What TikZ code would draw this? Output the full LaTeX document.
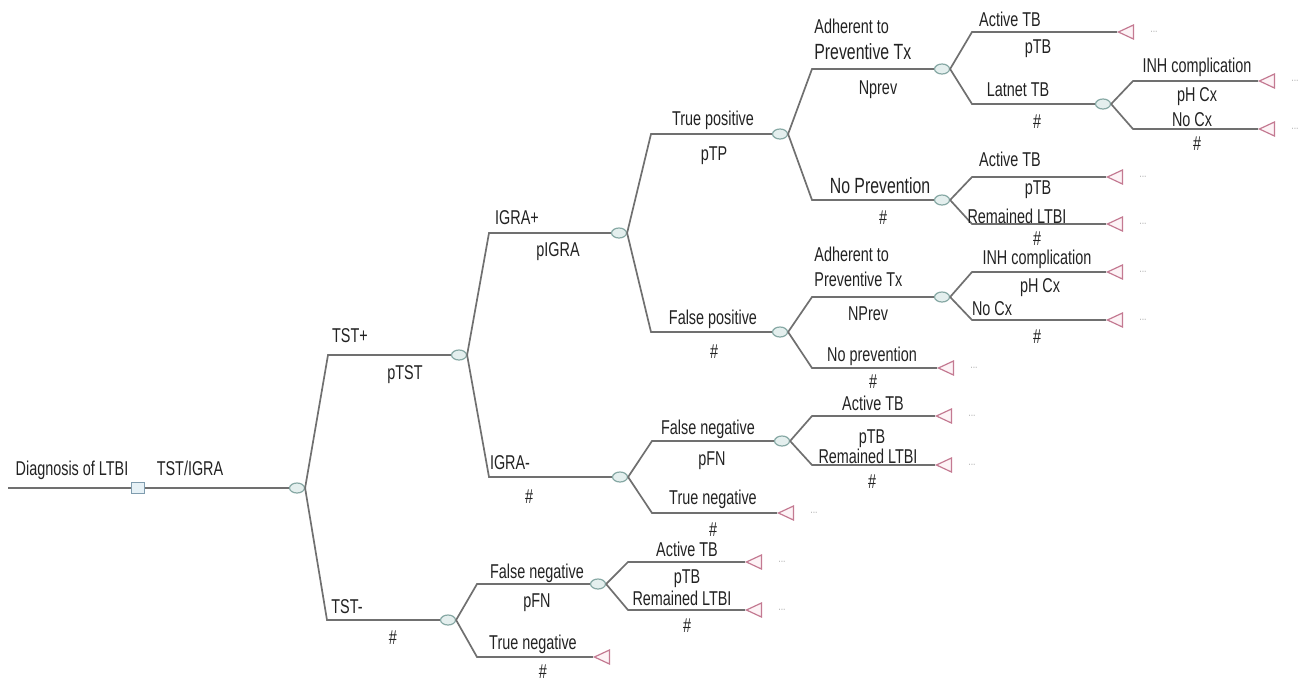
\documentclass[tikz,border=0pt]{standalone}
\usepackage{fontspec}
\setmainfont{Liberation Sans}[FakeStretch=0.72]
\usetikzlibrary{shapes.geometric,positioning}
\definecolor{dtLine}{HTML}{707070}
\definecolor{dtChance}{HTML}{86A8A4}
\definecolor{dtChanceFill}{HTML}{E4EFEE}
\definecolor{dtDecide}{HTML}{7F9CAE}
\definecolor{dtDecideFill}{HTML}{E6F1F6}
\definecolor{dtRose}{HTML}{C47A92}
\definecolor{dtRoseFill}{HTML}{FDF3F6}
\definecolor{dtInk}{HTML}{222222}
\tikzset{
  br/.style={draw=dtLine, line width=0.85pt},
  chn/.style={ellipse, draw=dtChance, fill=dtChanceFill, line width=0.6pt, minimum width=7.5pt, minimum height=5pt, inner sep=0pt},
  dec/.style={rectangle, draw=dtDecide, fill=dtDecideFill, line width=0.6pt, minimum width=6.5pt, minimum height=5.5pt, inner sep=0pt},
  term/.style={isosceles triangle, shape border rotate=180, isosceles triangle apex angle=50, draw=dtRose, fill=dtRoseFill, line width=0.6pt, minimum height=7.5pt, inner sep=0pt, anchor=apex},
  lbl/.style={font=\fontsize{10}{11}\selectfont, text=dtInk, inner sep=0pt, anchor=base},
  lblL/.style={lbl, font=\fontsize{11}{12}\selectfont},
  more/.style={font=\fontsize{6}{7}\selectfont, text=gray!60, inner sep=0pt},
}
\begin{document}
\begin{tikzpicture}[x=0.5pt, y=-0.5pt, node distance=8pt]
  \useasboundingbox (0,0) rectangle (1313,681);
  % root and decision
  \coordinate (s0) at (8,488);
  \node[dec] (d0) at (138,488) {};
  \node[chn] (c0) at (297,488) {};
  \draw[br] (s0) -- (d0.west) (d0.east) -- (c0.west);
  \node[lbl] (l-root) at (72,475) {Diagnosis of LTBI};
  \node[lbl] (l-test) at (190,475) {TST/IGRA};

  % TST+ / TST-
  \coordinate (k1) at (328,355); \coordinate (k2) at (327,620);
  \node[chn] (c1) at (459,355) {};
  \node[chn] (c2) at (448,620) {};
  \draw[br] (c0.east) -- (k1) -- (c1.west); \draw[br] (c0.east) -- (k2) -- (c2.west);
  \node[lbl] (l-tstp) at (350,342) {TST+};  \node[lbl] (p-tstp) at (405,379) {pTST};
  \node[lbl] (l-tstn) at (347,613) {TST-};  \node[lbl] (p-tstn) at (393,644) {\#};

  % IGRA+ / IGRA-
  \coordinate (k3) at (489,233); \coordinate (k4) at (489,477);
  \node[chn] (c3) at (619,233) {};
  \node[chn] (c4) at (620,477) {};
  \draw[br] (c1.east) -- (k3) -- (c3.west); \draw[br] (c1.east) -- (k4) -- (c4.west);
  \node[lbl] (l-igp) at (517,224) {IGRA+};  \node[lbl] (p-igp) at (558,256) {pIGRA};
  \node[lbl] (l-ign) at (510,469) {IGRA-};  \node[lbl] (p-ign) at (529,503) {\#};

  % true / false positive
  \coordinate (k5) at (651,134); \coordinate (k6) at (651,332);
  \node[chn] (c5) at (780,134) {};
  \node[chn] (c6) at (780,332) {};
  \draw[br] (c3.east) -- (k5) -- (c5.west); \draw[br] (c3.east) -- (k6) -- (c6.west);
  \node[lbl] (l-tp) at (713,125) {True positive};   \node[lbl] (p-tp) at (714,160) {pTP};
  \node[lbl] (l-fp) at (713,324) {False positive};  \node[lbl] (p-fp) at (714,358) {\#};

  % true positive: prevention
  \coordinate (k7) at (812,69); \coordinate (k8) at (812,200);
  \node[chn] (c7) at (942,69) {};
  \node[chn] (c8) at (942,200) {};
  \draw[br] (c5.east) -- (k7) -- (c7.west); \draw[br] (c5.east) -- (k8) -- (c8.west);
  \node[lbl, anchor=base west] (l-adh1) at (814,33) {Adherent to};
  \node[lblL, anchor=base west] (l-adh1b) at (814,59) {Preventive Tx};
  \node[lbl] (p-adh1) at (878,94) {Nprev};
  \node[lblL] (l-nop1) at (880,193) {No Prevention};  \node[lbl] (p-nop1) at (883,224) {\#};

  % adherent: active / latent
  \coordinate (k9) at (972,32); \coordinate (k10) at (972,104);
  \node[term] (t1) at (1117,32) {};
  \node[chn] (c9) at (1103,104) {};
  \draw[br] (c7.east) -- (k9) -- (t1.apex); \draw[br] (c7.east) -- (k10) -- (c9.west);
  \node[more, right=of t1] (m1) {...};
  \node[lbl] (l-act1) at (1010,26) {Active TB};  \node[lbl] (p-act1) at (1038,53) {pTB};
  \node[lbl] (l-lat1) at (1018,96) {Latnet TB};  \node[lbl] (p-lat1) at (1037,128) {\#};

  % latent: complication
  \coordinate (k11) at (1133,81); \coordinate (k12) at (1133,129);
  \node[term] (t2) at (1258,81) {};
  \node[term] (t3) at (1258,129) {};
  \draw[br] (c9.east) -- (k11) -- (t2.apex); \draw[br] (c9.east) -- (k12) -- (t3.apex);
  \node[more, right=of t2] (m2) {...}; \node[more, right=of t3] (m3) {...};
  \node[lbl] (l-inh1) at (1197,72) {INH complication};  \node[lbl] (p-inh1) at (1197,101) {pH Cx};
  \node[lbl] (l-ncx1) at (1192,126) {No Cx};             \node[lbl] (p-ncx1) at (1197,150) {\#};

  % no prevention: active / remained
  \coordinate (k13) at (972,177); \coordinate (k14) at (972,224);
  \node[term] (t4) at (1106,177) {};
  \node[term] (t5) at (1106,224) {};
  \draw[br] (c8.east) -- (k13) -- (t4.apex); \draw[br] (c8.east) -- (k14) -- (t5.apex);
  \node[more, right=of t4] (m4) {...}; \node[more, right=of t5] (m5) {...};
  \node[lbl] (l-act2) at (1010,166) {Active TB};      \node[lbl] (p-act2) at (1038,194) {pTB};
  \node[lbl] (l-rem2) at (1017,223) {Remained LTBI};  \node[lbl] (p-rem2) at (1037,245) {\#};

  % false positive: prevention
  \coordinate (k15) at (812,297); \coordinate (k16) at (812,368);
  \node[chn] (c10) at (942,297) {};
  \node[term] (t6) at (937,368) {};
  \draw[br] (c6.east) -- (k15) -- (c10.west); \draw[br] (c6.east) -- (k16) -- (t6.apex);
  \node[more, right=of t6] (m6) {...};
  \node[lbl, anchor=base west] (l-adh2) at (814,261) {Adherent to};
  \node[lbl, anchor=base west] (l-adh2b) at (814,286) {Preventive Tx};
  \node[lbl] (p-adh2) at (868,320) {NPrev};
  \node[lbl] (l-nop2) at (872,361) {No prevention};  \node[lbl] (p-nop2) at (873,388) {\#};

  % false positive adherent: complication
  \coordinate (k17) at (972,272); \coordinate (k18) at (972,320);
  \node[term] (t7) at (1106,272) {};
  \node[term] (t8) at (1106,320) {};
  \draw[br] (c10.east) -- (k17) -- (t7.apex); \draw[br] (c10.east) -- (k18) -- (t8.apex);
  \node[more, right=of t7] (m7) {...}; \node[more, right=of t8] (m8) {...};
  \node[lbl] (l-inh2) at (1037,264) {INH complication};  \node[lbl] (p-inh2) at (1040,292) {pH Cx};
  \node[lbl] (l-ncx2) at (992,315) {No Cx};              \node[lbl] (p-ncx2) at (1037,343) {\#};

  % IGRA-: false / true negative
  \coordinate (k19) at (652,441); \coordinate (k20) at (652,513);
  \node[chn] (c11) at (782,441) {};
  \node[term] (t9) at (777,513) {};
  \draw[br] (c4.east) -- (k19) -- (c11.west); \draw[br] (c4.east) -- (k20) -- (t9.apex);
  \node[more, right=of t9] (m9) {...};
  \node[lbl] (l-fn1) at (708,434) {False negative};  \node[lbl] (p-fn1) at (712,465) {pFN};
  \node[lbl] (l-tn1) at (713,504) {True negative};   \node[lbl] (p-tn1) at (713,536) {\#};

  \coordinate (k21) at (812,416); \coordinate (k22) at (812,465);
  \node[term] (t10) at (935,416) {};
  \node[term] (t11) at (935,465) {};
  \draw[br] (c11.east) -- (k21) -- (t10.apex); \draw[br] (c11.east) -- (k22) -- (t11.apex);
  \node[more, right=of t10] (m10) {...}; \node[more, right=of t11] (m11) {...};
  \node[lbl] (l-act3) at (873,410) {Active TB};      \node[lbl] (p-act3) at (872,443) {pTB};
  \node[lbl] (l-rem3) at (868,463) {Remained LTBI};  \node[lbl] (p-rem3) at (872,488) {\#};

  % TST-: false / true negative
  \coordinate (k23) at (477,584); \coordinate (k24) at (477,657);
  \node[chn] (c12) at (598,584) {};
  \node[term] (t12) at (593,657) {};
  \draw[br] (c2.east) -- (k23) -- (c12.west); \draw[br] (c2.east) -- (k24) -- (t12.apex);
  \node[lbl] (l-fn2) at (537,578) {False negative};  \node[lbl] (p-fn2) at (537,607) {pFN};
  \node[lbl] (l-tn2) at (533,649) {True negative};   \node[lbl] (p-tn2) at (543,678) {\#};

  \coordinate (k25) at (628,562); \coordinate (k26) at (628,610);
  \node[term] (t13) at (745,562) {};
  \node[term] (t14) at (745,610) {};
  \draw[br] (c12.east) -- (k25) -- (t13.apex); \draw[br] (c12.east) -- (k26) -- (t14.apex);
  \node[more, right=of t13] (m13) {...}; \node[more, right=of t14] (m14) {...};
  \node[lbl] (l-act4) at (687,556) {Active TB};      \node[lbl] (p-act4) at (687,583) {pTB};
  \node[lbl] (l-rem4) at (682,605) {Remained LTBI};  \node[lbl] (p-rem4) at (687,632) {\#};
\end{tikzpicture}
\end{document}
